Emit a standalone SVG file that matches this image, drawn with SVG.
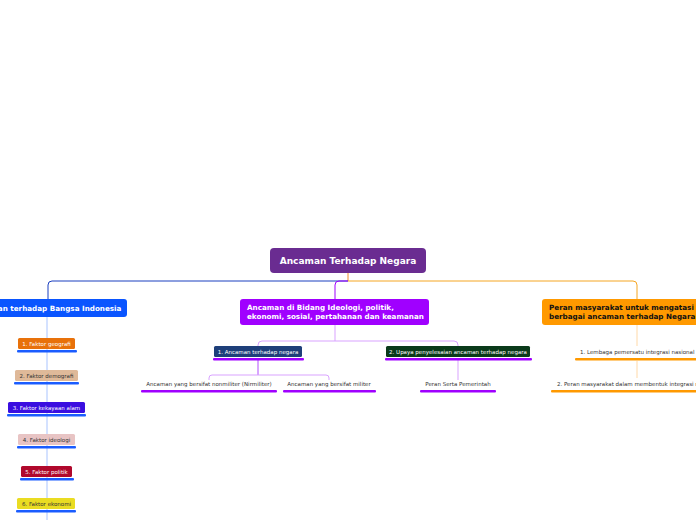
<svg xmlns="http://www.w3.org/2000/svg" width="696" height="520" viewBox="0 0 696 520">
<style>
text{font-family:"DejaVu Sans","Verdana",sans-serif}
.t1{font-size:7.2px;font-weight:bold;fill:#fff}
.s{font-size:5.5px;text-anchor:middle}
.w{fill:#fff}.d{fill:#333}
.ln{fill:none;stroke-width:1}
</style>
<rect width="696" height="520" fill="#fff"/>
<g id="connectors">
<path class="ln" stroke="#f28c28" d="M348 273V281"/>
<path class="ln" stroke="#1a3fbf" d="M348 281H52Q48 281 48 285V299"/>
<path class="ln" stroke="#a000ff" d="M348 281H339Q335 281 335 285V299"/>
<path class="ln" stroke="#f5a623" d="M348 281H633Q637 281 637 285V299"/>
<path class="ln" stroke="#a9c4ff" d="M47 317V520"/>
<path class="ln" stroke="#d9a3ff" d="M335 325V341M262 341H454Q458 341 458 345V346M262 341Q258 341 258 345V346"/>
<path class="ln" stroke="#b24dff" d="M258 360V375"/>
<path class="ln" stroke="#d9a3ff" d="M212 375H326Q329 375 329 378V380M212 375Q209 375 209 378V380"/>
<path class="ln" stroke="#d9a3ff" d="M458 360V380"/>
<path class="ln" stroke="#ffd9a8" d="M637 325V346M637 361V378"/>
</g>
<g id="root"><rect x="270" y="248" width="156" height="25" rx="4" fill="#6a2c91"/><text x="348" y="264" text-anchor="middle" font-size="9" font-weight="bold" fill="#fff">Ancaman Terhadap Negara</text></g>
<g id="n-left"><rect x="-40" y="299" width="167" height="18" rx="3" fill="#0a55ff"/><text class="t1" x="46" y="311" text-anchor="middle">Ancaman terhadap Bangsa Indonesia</text></g>
<g id="n-mid"><rect x="240" y="299" width="189" height="26" rx="3" fill="#a000ff"/><text class="t1" x="247" y="310">Ancaman di Bidang Ideologi, politik,</text><text class="t1" x="247" y="319">ekonomi, sosial, pertahanan dan keamanan</text></g>
<g id="n-right"><rect x="542" y="299" width="170" height="26" rx="3" fill="#ff9900"/><text class="t1" x="549" y="310" style="fill:#111">Peran masyarakat untuk mengatasi</text><text class="t1" x="549" y="319" style="fill:#111">berbagai ancaman terhadap Negara</text></g>
<g id="f1"><rect x="18" y="338" width="57" height="11" rx="1.5" fill="#e8710a"/><rect x="17" y="350" width="60" height="2.5" rx="1" fill="#1a5cff"/><text class="s w" x="46.5" y="345.7">1. Faktor geografi</text></g>
<g id="f2"><rect x="15" y="370" width="63" height="11" rx="1.5" fill="#dfb999"/><rect x="14" y="382" width="65" height="2.5" rx="1" fill="#1a5cff"/><text class="s d" x="46.5" y="377.7">2. Faktor demografi</text></g>
<g id="f3"><rect x="8" y="402" width="77" height="11" rx="1.5" fill="#3a0ee0"/><rect x="7" y="414" width="79" height="2.5" rx="1" fill="#1a5cff"/><text class="s w" x="46.5" y="409.7">3. Faktor kekayaan alam</text></g>
<g id="f4"><rect x="18" y="434" width="57" height="11" rx="1.5" fill="#e8c4c4"/><rect x="17" y="446" width="59" height="2.5" rx="1" fill="#1a5cff"/><text class="s d" x="46.5" y="441.7">4. Faktor ideologi</text></g>
<g id="f5"><rect x="21" y="466" width="51" height="11" rx="1.5" fill="#b0082c"/><rect x="20" y="478" width="54" height="2.5" rx="1" fill="#1a5cff"/><text class="s w" x="46.5" y="473.7">5. Faktor politik</text></g>
<g id="f6"><rect x="17" y="498" width="58" height="11" rx="1.5" fill="#eadc22"/><rect x="16" y="510" width="60" height="2.5" rx="1" fill="#1a5cff"/><text class="s d" x="46.5" y="505.7">6. Faktor ekonomi</text></g>
<g id="m1"><rect x="214" y="346" width="88" height="11" rx="1.5" fill="#1e3f7a"/><rect x="213" y="358" width="91" height="2.5" rx="1" fill="#a000ff"/><text class="s w" x="258" y="353.7">1. Ancaman terhadap negara</text></g>
<g id="m2"><rect x="386" y="346" width="144" height="11" rx="1.5" fill="#0a3a1a"/><rect x="385" y="358" width="147" height="2.5" rx="1" fill="#a000ff"/><text class="s w" x="458" y="353.7">2. Upaya penyelesaian ancaman terhadap negara</text></g>
<g id="a1"><rect x="141" y="390" width="136" height="2.5" rx="1" fill="#a000ff"/><text class="s d" x="209" y="386">Ancaman yang bersifat nonmiliter (Nirmiliter)</text></g>
<g id="a2"><rect x="283" y="390" width="93" height="2.5" rx="1" fill="#a000ff"/><text class="s d" x="329" y="386">Ancaman yang bersifat militer</text></g>
<g id="a3"><rect x="420" y="390" width="76" height="2.5" rx="1" fill="#a000ff"/><text class="s d" x="458" y="386">Peran Serta Pemerintah</text></g>
<g id="r1"><rect x="575" y="358" width="130" height="2.5" rx="1" fill="#ff9900"/><text x="580" y="354" font-size="5.5" fill="#333">1. Lembaga pemersatu integrasi nasional</text></g>
<g id="r2"><rect x="551" y="390" width="150" height="2.5" rx="1" fill="#ff9900"/><text x="557" y="386" font-size="5.5" fill="#333">2. Peran masyarakat dalam membentuk integrasi nasional</text></g>
</svg>
